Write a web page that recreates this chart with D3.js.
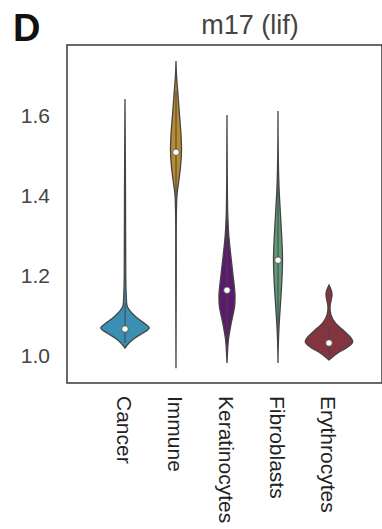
<!DOCTYPE html>
<html>
<head>
<meta charset="utf-8">
<script src="https://cdn.jsdelivr.net/npm/d3@7"></script>
<style>
  body { margin: 0; background: #fff; }
  text { font-family: "Liberation Sans", Arial, sans-serif; }
</style>
</head>
<body>
<div class="canvas"></div>
<script>
// categories and colours
const categories = ['Cancer', 'Immune', 'Keratinocytes', 'Fibroblasts', 'Erythrocytes'];
const colours = ['#3a8fb3', '#b98b2e', '#5c1a6c', '#5f9b78', '#83343f'];

// density profiles: [value, relative density]
const cancerDensity = [[1.64,0],[1.40,0.02],[1.20,0.03],[1.15,0.05],[1.12,0.1],[1.095,0.44],[1.08,0.76],[1.0675,0.97],[1.055,0.72],[1.0425,0.4],[1.03,0.16],[1.0175,0]];
const immuneDensity = [[1.735,0],[1.70,0.02],[1.65,0.08],[1.60,0.14],[1.55,0.2],[1.51,0.22],[1.47,0.18],[1.43,0.1],[1.40,0.04],[1.35,0.015],[1.20,0.01],[0.967,0]];
const keratDensity = [[1.60,0],[1.45,0.01],[1.35,0.03],[1.30,0.07],[1.25,0.15],[1.20,0.24],[1.15,0.32],[1.12,0.3],[1.08,0.17],[1.04,0.06],[1.00,0.015],[0.98,0]];
const fibroDensity = [[1.61,0],[1.50,0.01],[1.42,0.04],[1.35,0.1],[1.28,0.16],[1.24,0.18],[1.18,0.15],[1.12,0.09],[1.07,0.04],[1.02,0.01],[0.98,0]];
const erythDensity = [[1.175,0],[1.16,0.1],[1.15,0.12],[1.135,0.08],[1.12,0.04],[1.10,0.08],[1.08,0.25],[1.06,0.6],[1.045,0.85],[1.033,0.95],[1.02,0.75],[1.005,0.35],[0.9875,0]];

// inner box stats
const medians = [1.065, 1.507, 1.162, 1.237, 1.03];
const whiskLo = [1.03, 1.38, 1.04, 1.06, 1.0];
const whiskHi = [1.13, 1.66, 1.32, 1.46, 1.07];

const yTicks = [1.0, 1.2, 1.4, 1.6];

const densities = [cancerDensity, immuneDensity, keratDensity, fibroDensity, erythDensity];

const dims = { width: 382, height: 529 };
const box = { left: 67, right: 382, top: 45, bottom: 383 };

const svg = d3.select('.canvas')
    .append('svg')
    .attr('width', dims.width)
    .attr('height', dims.height);

const y = d3.scaleLinear()
    .domain([1.0, 1.6])
    .range([355, 115]);

const x = d3.scalePoint()
    .domain(categories)
    .range([125, 329]);

const w = d3.scaleLinear()
    .domain([0, 1])
    .range([0, 25]);

// violins
const area = d3.area()
    .y(d => y(d[0]))
    .x0(d => -w(d[1]))
    .x1(d => w(d[1]))
    .curve(d3.curveCatmullRom);

const violins = svg.append('g')
    .selectAll('g')
    .data(categories)
    .enter()
    .append('g')
    .attr('transform', d => `translate(${x(d)}, 0)`);

violins.append('path')
    .attr('d', (d, i) => area(densities[i]))
    .attr('fill', (d, i) => colours[i])
    .attr('stroke', '#444')
    .attr('stroke-width', 1.3);

violins.append('line')
    .attr('y1', (d, i) => y(whiskLo[i]))
    .attr('y2', (d, i) => y(whiskHi[i]))
    .attr('stroke', '#444')
    .attr('stroke-width', 1);

violins.append('circle')
    .attr('cy', (d, i) => y(medians[i]))
    .attr('r', 3.3)
    .attr('fill', '#fff')
    .attr('stroke', '#444')
    .attr('stroke-width', 0.8);

// frame
svg.append('rect')
    .attr('x', box.left)
    .attr('y', box.top)
    .attr('width', box.right - box.left)
    .attr('height', box.bottom - box.top)
    .attr('fill', 'none')
    .attr('stroke', '#444')
    .attr('stroke-width', 1.6);

// y tick labels
svg.append('g')
    .selectAll('text')
    .data(yTicks)
    .enter()
    .append('text')
    .attr('x', 50)
    .attr('y', d => y(d))
    .attr('dy', '0.36em')
    .attr('text-anchor', 'end')
    .attr('font-size', 21)
    .attr('fill', '#444')
    .text(d => d.toFixed(1));

// x tick labels, rotated
svg.append('g')
    .selectAll('text')
    .data(categories)
    .enter()
    .append('text')
    .attr('transform', d => `translate(${x(d)}, 396) rotate(90)`)
    .attr('dy', '0.36em')
    .attr('font-size', 21)
    .attr('fill', '#222')
    .text(d => d);

// title and panel letter
svg.append('text')
    .attr('x', 250)
    .attr('y', 34)
    .attr('text-anchor', 'middle')
    .attr('font-size', 27)
    .attr('fill', '#444')
    .text('m17 (lif)');

svg.append('text')
    .attr('x', 13)
    .attr('y', 41)
    .attr('font-size', 38)
    .attr('font-weight', 'bold')
    .attr('fill', '#111')
    .text('D');
</script>
</body>
</html>
